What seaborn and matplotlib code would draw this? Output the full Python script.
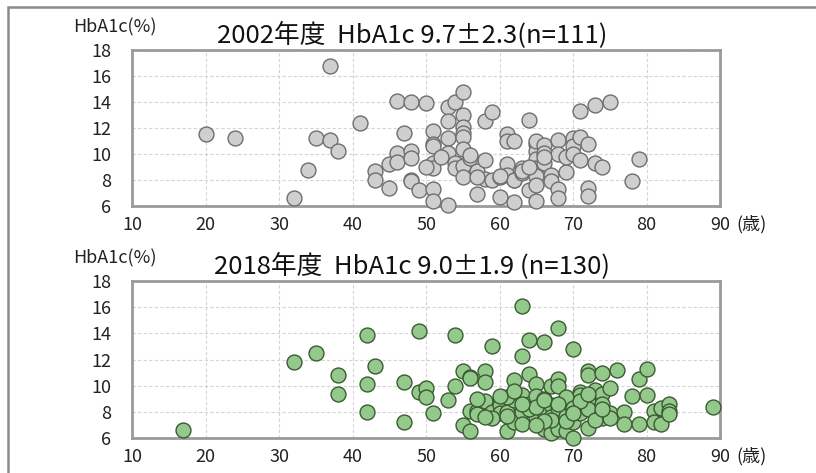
import pandas as pd
import matplotlib
matplotlib.use('Agg')
import matplotlib.pyplot as plt
import seaborn as sns
from matplotlib.patches import Rectangle

# Data: (age, HbA1c)
age_2002 = [20, 24, 32, 34, 35, 37, 37, 38, 41, 43, 43, 45, 45, 46, 46, 46, 47, 48, 48, 48,
            48, 48, 49, 50, 51, 51, 51, 51, 51, 51, 51, 53, 53, 53, 53, 53, 54, 54, 54, 55,
            55, 55, 55, 55, 55, 55, 55, 56, 56, 57, 57, 58, 58, 58, 59, 59, 60, 60, 61, 61,
            61, 61, 62, 62, 62, 62, 63, 63, 64, 64, 65, 65, 65, 65, 65, 65, 65, 65, 66, 66,
            66, 67, 67, 68, 68, 68, 68, 69, 69, 70, 70, 70, 71, 71, 71, 72, 72, 72, 73, 73,
            74, 75, 78, 79, 60, 57, 52, 63, 64, 66, 50]
hba1c_2002 = [11.5, 11.2, 6.6, 8.8, 11.2, 16.8, 11.1, 10.2, 12.4, 8.7, 8.0, 9.2, 7.4, 14.1, 10.1, 9.4, 11.6, 14.0, 10.2, 9.7,
              8.0, 7.9, 7.2, 13.9, 11.8, 10.8, 10.6, 9.3, 8.9, 7.3, 6.4, 13.6, 12.5, 11.2, 10.1, 6.1, 14.0, 9.3, 8.9, 14.8,
              13.0, 12.1, 11.6, 11.3, 10.4, 9.1, 8.2, 9.7, 9.9, 8.7, 6.9, 12.5, 9.5, 8.1, 13.2, 8.0, 8.2, 6.7, 11.5, 9.2,
              8.4, 11.0, 11.0, 8.0, 6.3, 8.0, 8.9, 8.5, 12.6, 7.2, 10.8, 10.2, 9.6, 8.9, 8.3, 7.6, 6.4, 11.0, 10.7, 10.1,
              9.3, 8.4, 7.9, 7.3, 6.6, 11.1, 10.0, 8.6, 9.8, 11.2, 10.6, 10.0, 11.3, 9.5, 13.3, 10.8, 7.4, 6.8, 13.8, 9.3,
              9.0, 14.0, 7.9, 9.6, 8.3, 8.2, 9.8, 8.7, 9.0, 9.8, 9.0]

age_2018 = [17, 32, 35, 38, 38, 42, 42, 42, 43, 47, 47, 49, 49, 50, 50, 51, 53, 54, 54, 55,
            55, 56, 56, 56, 56, 57, 57, 58, 58, 58, 59, 59, 60, 60, 60, 61, 61, 62, 62, 62,
            63, 63, 63, 63, 63, 64, 64, 64, 65, 65, 65, 66, 66, 66, 66, 67, 67, 67, 67, 67,
            68, 68, 68, 68, 68, 68, 69, 69, 69, 70, 70, 70, 70, 71, 71, 71, 71, 72, 72, 72,
            72, 72, 73, 74, 74, 74, 74, 74, 75, 75, 75, 76, 77, 77, 78, 79, 79, 80, 80, 81,
            81, 82, 82, 83, 83, 83, 89, 61, 64, 65, 66, 69, 70, 71, 73, 62, 59, 60, 68, 67,
            66, 65, 63, 72, 74, 58, 57, 61, 69, 70]
hba1c_2018 = [6.6, 11.8, 12.5, 10.8, 9.4, 13.9, 10.1, 8.0, 11.5, 10.3, 7.2, 14.2, 9.5, 9.8, 9.1, 7.9, 8.9, 13.9, 10.0, 11.1,
              7.0, 10.7, 10.6, 6.5, 8.1, 8.1, 7.8, 11.1, 10.3, 8.8, 13.0, 8.0, 9.0, 8.5, 7.9, 8.0, 6.5, 10.4, 8.9, 7.2,
              16.1, 12.3, 9.3, 8.0, 7.1, 13.5, 10.9, 8.6, 10.1, 9.2, 7.6, 13.3, 9.0, 8.0, 6.7, 10.0, 8.5, 7.6, 7.1, 6.4,
              14.4, 10.5, 10.0, 7.7, 6.7, 8.3, 8.5, 7.7, 6.5, 12.8, 8.1, 7.2, 6.0, 9.5, 9.3, 8.7, 7.9, 11.1, 10.8, 8.8,
              8.2, 6.8, 9.7, 11.0, 9.4, 8.6, 8.0, 7.5, 9.8, 7.9, 7.5, 11.2, 8.0, 7.1, 9.2, 10.5, 7.1, 11.3, 9.3, 8.1,
              7.2, 8.3, 7.1, 8.6, 8.1, 7.8, 8.4, 9.1, 8.2, 8.4, 8.9, 9.1, 8.3, 8.8, 7.4, 9.6, 7.5, 9.2, 8.6, 7.4,
              7.3, 7.0, 8.6, 9.4, 8.2, 7.6, 9.0, 7.7, 7.3, 7.9]

titles = ['2002年度  HbA1c 9.7±2.3(n=111)', '2018年度  HbA1c 9.0±1.9 (n=130)']
x_ticks = [10, 20, 30, 40, 50, 60, 70, 80, 90]
y_ticks = [6, 8, 10, 12, 14, 16, 18]

sns.set_theme(style='white')
plt.rcParams['font.family'] = ['Noto Sans CJK JP', 'DejaVu Sans']

fig = plt.figure(figsize=(8.16, 4.73), dpi=100)
fig.patches.append(Rectangle((8 / 816, -0.1), 1.2, 1.1 - 7 / 473, transform=fig.transFigure,
                             fill=False, edgecolor='#8a8a8a', linewidth=1.8, zorder=0))

panels = [
    (pd.DataFrame({'age': age_2002, 'hba1c': hba1c_2002}), '#cfcfcf', '#6e6e6e', [0.1618, 0.5645, 0.7206, 0.3298]),
    (pd.DataFrame({'age': age_2018, 'hba1c': hba1c_2018}), '#93c98a', '#3b5a33', [0.1618, 0.0740, 0.7206, 0.3319]),
]

for (df, fc, ec, pos), title in zip(panels, titles):
    ax = fig.add_axes(pos)
    ax.set_axisbelow(True)
    ax.grid(True, color='#d4d4d4', linestyle=(0, (3, 2)), linewidth=0.8)
    sns.scatterplot(data=df, x='age', y='hba1c', ax=ax, s=115, color=fc, edgecolor=ec,
                    linewidth=1.0, clip_on=False, zorder=3, legend=False)
    ax.set_xlim(10, 90)
    ax.set_ylim(6, 18)
    ax.set_xticks(x_ticks)
    ax.set_yticks(y_ticks)
    ax.tick_params(axis='x', length=0, pad=7, labelsize=13, colors='#222222')
    ax.tick_params(axis='y', length=0, pad=15, labelsize=13, colors='#222222')
    ax.set_xlabel('')
    ax.set_ylabel('')
    for sp in ax.spines.values():
        sp.set_color('#9a9a9a')
        sp.set_linewidth(2)
    # unit after the last tick label
    ax.annotate('(歳)', xy=(1.0, 0), xycoords='axes fraction', xytext=(12, -13),
                textcoords='offset points', ha='left', va='center', fontsize=13, color='#222222')
    ax.set_title(title, fontsize=18.5, pad=6, x=0.476, color='#111111')
    ax.text(-0.10, 1.145, 'HbA1c(%)', transform=ax.transAxes, ha='left', va='center',
            fontsize=13, color='#222222')

fig.savefig('out.png', dpi=100)
